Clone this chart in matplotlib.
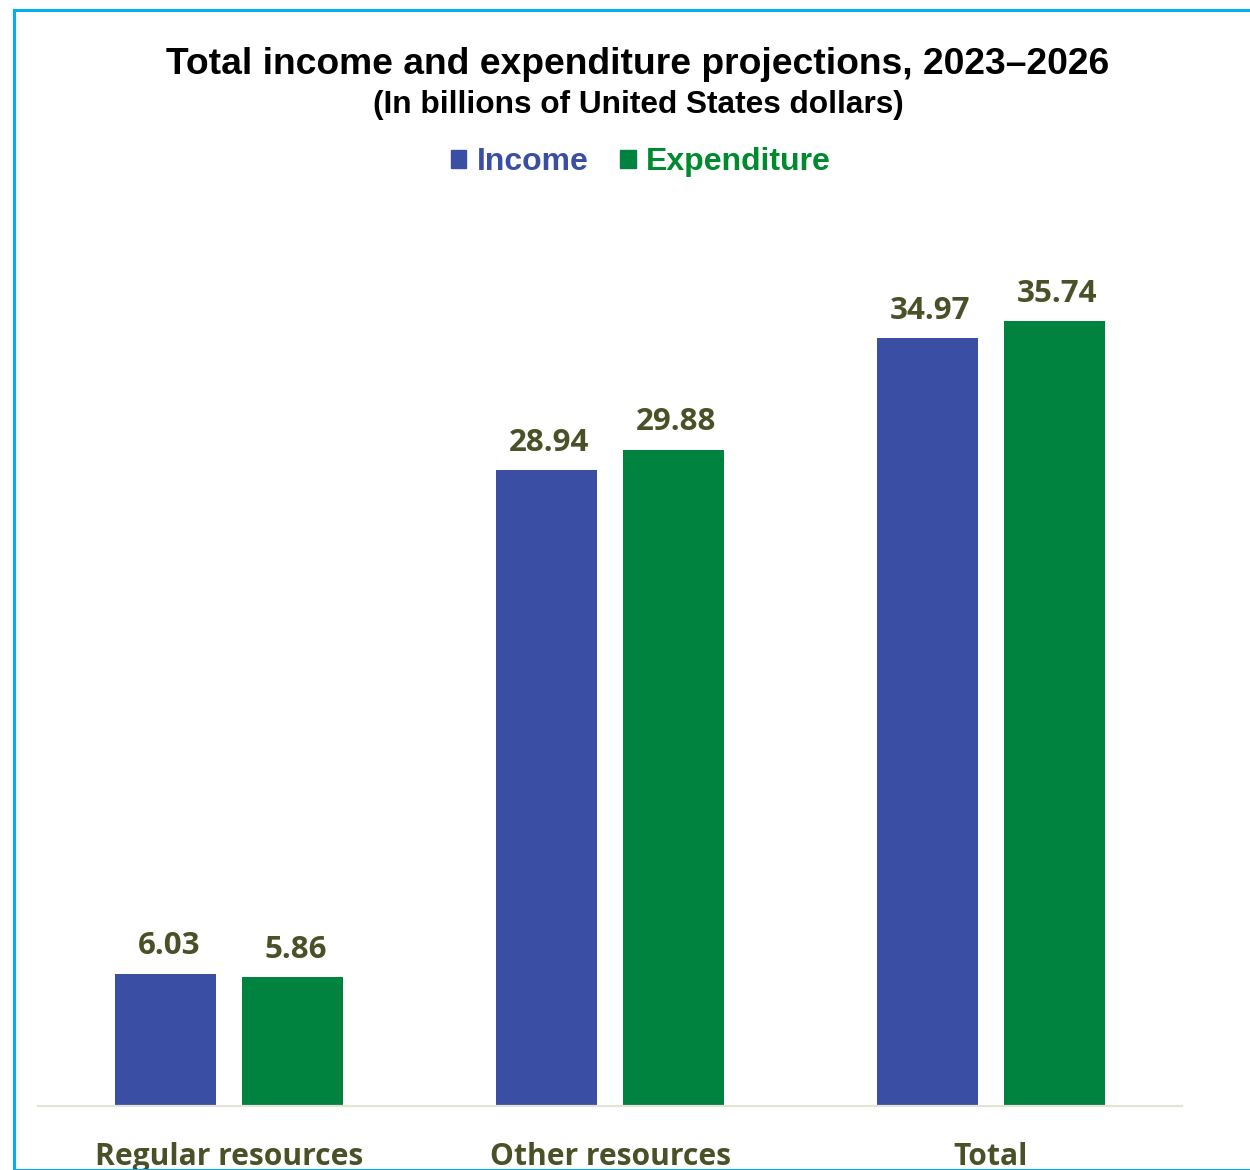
import matplotlib.pyplot as plt
from matplotlib.patches import Rectangle, Patch

categories = ['Regular resources', 'Other resources', 'Total']
income = [6.03, 28.94, 34.97]
expenditure = [5.86, 29.88, 35.74]

blue = '#3A4FA3'
green = '#00833E'
olive = '#4A5127'

fig = plt.figure(figsize=(12.5, 11.7), dpi=100)
W, H = 1250, 1170

# light blue frame around the chart
fig.patches.append(Rectangle((14 / W, 0), 1.1, 1 - 10 / H, transform=fig.transFigure,
                             fill=False, edgecolor='#00B0F0', linewidth=2.2))

ax = fig.add_axes([38 / W, (H - 1106) / H, (1182 - 38) / W, 878.4 / H])
x = range(len(categories))
off = 0.1669
w = 0.2654
b1 = ax.bar([i - off for i in x], income, w, color=blue, label='Income')
b2 = ax.bar([i + off for i in x], expenditure, w, color=green, label='Expenditure')
for bars, vals in ((b1, income), (b2, expenditure)):
    for r, v in zip(bars, vals):
        ax.annotate(f'{v:.2f}', (r.get_x() + r.get_width() / 2, v), xytext=(2, 9),
                    textcoords='offset points', ha='center', va='bottom',
                    fontsize=22.5, fontweight='bold', color=olive, family='Open Sans')

ax.set_xticks(list(x))
ax.set_xlim(-0.503, 2.503)
ax.set_ylim(0, 40)
ax.set_yticks([])
ax.set_xticklabels(categories, fontsize=21.6, fontweight='bold', color=olive, family='Open Sans')
ax.tick_params(axis='x', length=0, pad=26)
for s in ['top', 'right', 'left']:
    ax.spines[s].set_visible(False)
ax.spines['bottom'].set_color('#E4E4D6')
ax.spines['bottom'].set_linewidth(1.6)

fig.text(0.5104, 1 - 65 / H, 'Total income and expenditure projections, 2023–2026',
         ha='center', va='center', fontsize=26.8, fontweight='bold', family='Liberation Sans')
fig.text(0.5104, 1 - 105 / H, '(In billions of United States dollars)',
         ha='center', va='center', fontsize=22.8, fontweight='bold', family='Liberation Sans')

leg = fig.legend(handles=[Patch(color=blue, label='Income'), Patch(color=green, label='Expenditure')],
                 loc='center', bbox_to_anchor=(0.5128, 1 - 162 / H), ncol=2, frameon=False,
                 prop={'family': 'Liberation Sans', 'weight': 'bold', 'size': 23},
                 handlelength=0.48, handleheight=0.48, handletextpad=0.32, columnspacing=1.0)
for t, c in zip(leg.get_texts(), [blue, '#008A2E']):
    t.set_color(c)

fig.savefig('out.png', dpi=100)
